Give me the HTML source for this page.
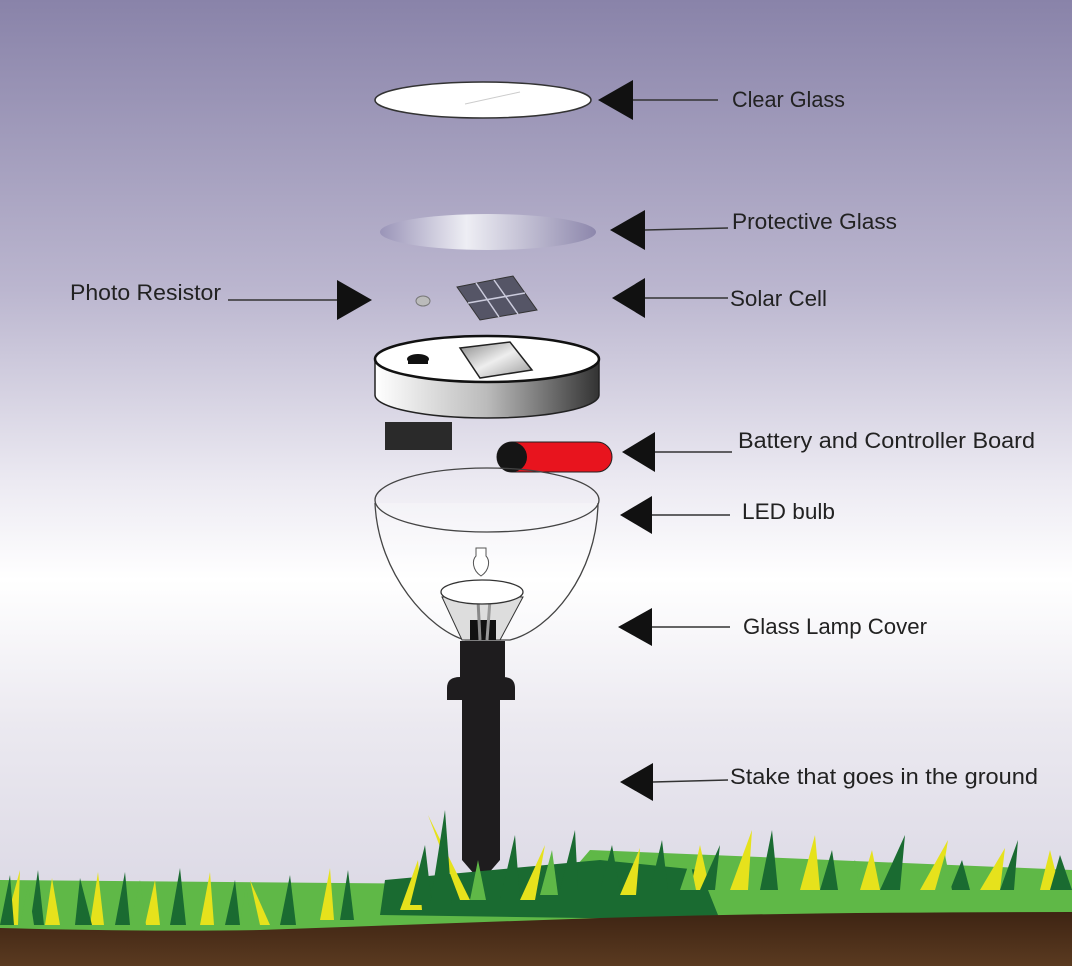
<!DOCTYPE html>
<html><head><meta charset="utf-8"><style>
html,body{margin:0;padding:0}
body{width:1072px;height:966px;overflow:hidden}
svg{display:block}
text{font-family:"Liberation Sans",sans-serif;font-size:22px;fill:#222}
</style></head><body>
<svg width="1072" height="966" viewBox="0 0 1072 966" xmlns="http://www.w3.org/2000/svg">
<defs>
<linearGradient id="bg" x1="0" y1="0" x2="0" y2="1">
<stop offset="0" stop-color="#8983a9"/>
<stop offset="0.3" stop-color="#bbb6cf"/>
<stop offset="0.5" stop-color="#eceaf2"/>
<stop offset="0.6" stop-color="#ffffff"/>
<stop offset="0.75" stop-color="#ebe9f0"/>
<stop offset="1" stop-color="#d6d3e1"/>
</linearGradient>
<linearGradient id="pg" x1="0" y1="0" x2="1" y2="0">
<stop offset="0" stop-color="#9a94b8"/><stop offset="0.4" stop-color="#eeeef4"/><stop offset="1" stop-color="#8d87ac"/>
</linearGradient>
<linearGradient id="cyl" x1="0" y1="0" x2="1" y2="0">
<stop offset="0" stop-color="#fff"/><stop offset="0.5" stop-color="#bbb"/><stop offset="1" stop-color="#333"/>
</linearGradient>
<linearGradient id="sq" x1="0" y1="0" x2="1" y2="1">
<stop offset="0" stop-color="#888"/><stop offset="0.5" stop-color="#eee"/><stop offset="1" stop-color="#999"/>
</linearGradient>
<linearGradient id="soil" x1="0" y1="0" x2="0" y2="1">
<stop offset="0" stop-color="#3e2413"/><stop offset="1" stop-color="#5a3a20"/>
</linearGradient>
</defs>
<rect width="1072" height="966" fill="url(#bg)"/>

<ellipse cx="483" cy="100" rx="108" ry="18" fill="#fff" stroke="#333" stroke-width="1.5"/>
<line x1="465" y1="104" x2="520" y2="92" stroke="#ccc"/>
<ellipse cx="488" cy="232" rx="108" ry="18" fill="url(#pg)"/>
<ellipse cx="423" cy="301" rx="7" ry="5" fill="#bbb" stroke="#777"/>
<polygon points="457,287 513,276 537,310 480,320" fill="#556" stroke="#333"/>
<g stroke="#ccd" stroke-width="1.5" fill="none">
<line x1="476" y1="283" x2="499" y2="317"/><line x1="494" y1="280" x2="518" y2="314"/>
<line x1="468" y1="303" x2="525" y2="293"/>
</g>
<path d="M375,359 L375,395 A112,23 0 0 0 599,395 L599,359 Z" fill="url(#cyl)" stroke="#222" stroke-width="1.5"/>
<ellipse cx="487" cy="359" rx="112" ry="23" fill="#fff" stroke="#111" stroke-width="2.5"/>
<ellipse cx="418" cy="359" rx="11" ry="5" fill="#111"/>
<rect x="408" y="359" width="20" height="5" fill="#111"/>
<polygon points="460,348 510,342 532,370 480,378" fill="url(#sq)" stroke="#222" stroke-width="1.5"/>
<rect x="385" y="422" width="67" height="28" fill="#2a2a2a"/>
<rect x="497" y="442" width="115" height="30" rx="15" fill="#e8141e" stroke="#222" stroke-width="1"/>
<circle cx="512" cy="457" r="15" fill="#151515"/>
<path d="M375,503 C378,575 430,630 465,640 L510,640 C550,630 597,575 598,503" fill="rgba(255,255,255,0.25)" stroke="#444" stroke-width="1.3"/>
<ellipse cx="487" cy="500" rx="112" ry="32" fill="none" stroke="#444" stroke-width="1.3"/>
<path d="M476,548 h10 v8 c4,4 4,14 -5,20 c-9,-6 -9,-16 -5,-20 z" fill="#fff" stroke="#555"/>
<polygon points="442,597 523,597 500,640 462,640" fill="#ddd" stroke="#333"/>
<rect x="470" y="620" width="26" height="20" fill="#111"/>
<line x1="478" y1="600" x2="480" y2="640" stroke="#888" stroke-width="3"/>
<line x1="490" y1="600" x2="487" y2="640" stroke="#999" stroke-width="3"/>
<ellipse cx="482" cy="592" rx="41" ry="12" fill="#fff" stroke="#333" stroke-width="1.3"/>
<rect x="460" y="641" width="45" height="40" fill="#1e1c1e"/>
<path d="M447,700 L447,688 Q447,677 460,677 L503,677 Q515,677 515,688 L515,700 Z" fill="#1e1c1e"/>
<path d="M462,700 L500,700 L500,860 L481,882 L462,860 Z" fill="#1e1c1e"/>

<g stroke-linejoin="round">
<path d="M0,880 L560,885 L590,850 L1072,870 L1072,930 L0,935 Z" fill="#5fb847"/>
<path d="M380,915 L385,880 L600,860 L700,870 L720,920 Z" fill="#1a6b31"/>
<g fill="#e6e21c">
<polygon points="5,925 20,870 18,925"/><polygon points="45,925 52,878 60,925"/><polygon points="90,925 98,872 104,925"/><polygon points="145,925 155,880 160,925"/><polygon points="200,925 210,872 214,925"/><polygon points="260,925 250,880 270,925"/><polygon points="320,920 330,868 334,920"/><polygon points="400,910 418,860 422,910"/><polygon points="460,900 428,815 470,900"/><polygon points="520,900 545,845 535,900"/><polygon points="620,895 640,848 636,895"/><polygon points="690,890 700,845 710,890"/><polygon points="730,890 752,830 748,890"/><polygon points="800,890 815,835 820,890"/><polygon points="860,890 872,850 880,890"/><polygon points="920,890 948,840 940,890"/><polygon points="980,890 1005,848 1000,890"/><polygon points="1040,890 1050,850 1060,890"/>
</g>
<g fill="#1a6b31">
<polygon points="0,925 10,875 14,925"/><polygon points="30,925 38,870 44,925"/><polygon points="75,925 80,878 92,925"/><polygon points="115,925 125,872 130,925"/><polygon points="170,925 180,868 186,925"/><polygon points="225,925 235,880 240,925"/><polygon points="280,925 290,875 296,925"/><polygon points="340,920 348,870 354,920"/><polygon points="410,905 425,845 432,905"/><polygon points="430,905 445,810 452,905"/><polygon points="500,900 515,835 520,900"/><polygon points="560,890 575,830 578,890"/><polygon points="600,890 612,845 620,890"/><polygon points="650,890 662,840 668,890"/><polygon points="700,890 720,845 715,890"/><polygon points="760,890 772,830 778,890"/><polygon points="820,890 832,850 838,890"/><polygon points="880,890 905,835 900,890"/><polygon points="950,890 962,860 970,890"/><polygon points="1000,890 1018,840 1014,890"/><polygon points="1050,890 1060,855 1072,890"/>
</g>
<g fill="#5fb847">
<polygon points="20,925 28,885 34,925"/><polygon points="130,925 140,880 146,925"/><polygon points="240,925 246,885 252,925"/><polygon points="470,900 478,860 486,900"/><polygon points="540,895 552,850 558,895"/><polygon points="680,890 690,860 696,890"/><polygon points="840,890 855,860 860,890"/><polygon points="935,890 945,855 952,890"/>
</g>
</g>
<path d="M0,928 Q150,932 260,930 L400,925 L600,918 Q800,912 1072,912 L1072,966 L0,966 Z" fill="url(#soil)"/>

<g fill="#111">
<polygon points="598,100 633,80 633,120"/>
<polygon points="610,230 645,210 645,250"/>
<polygon points="612,298 645,278 645,318"/>
<polygon points="372,300 337,280 337,320"/>
<polygon points="622,452 655,432 655,472"/>
<polygon points="620,515 652,496 652,534"/>
<polygon points="618,627 652,608 652,646"/>
<polygon points="620,782 653,763 653,801"/>
</g>
<g stroke="#333" stroke-width="1.5">
<line x1="633" y1="100" x2="718" y2="100"/>
<line x1="645" y1="230" x2="728" y2="228"/>
<line x1="645" y1="298" x2="728" y2="298"/>
<line x1="228" y1="300" x2="337" y2="300"/>
<line x1="655" y1="452" x2="732" y2="452"/>
<line x1="652" y1="515" x2="730" y2="515"/>
<line x1="652" y1="627" x2="730" y2="627"/>
<line x1="653" y1="782" x2="728" y2="780"/>
</g>
<g lengthAdjust="spacingAndGlyphs">
<text x="732" y="107" textLength="113" lengthAdjust="spacingAndGlyphs">Clear Glass</text>
<text x="732" y="229" textLength="165" lengthAdjust="spacingAndGlyphs">Protective Glass</text>
<text x="730" y="306" textLength="97" lengthAdjust="spacingAndGlyphs">Solar Cell</text>
<text x="70" y="300" textLength="151" lengthAdjust="spacingAndGlyphs">Photo Resistor</text>
<text x="738" y="448" textLength="297" lengthAdjust="spacingAndGlyphs">Battery and Controller Board</text>
<text x="742" y="519" textLength="93" lengthAdjust="spacingAndGlyphs">LED bulb</text>
<text x="743" y="634" textLength="184" lengthAdjust="spacingAndGlyphs">Glass Lamp Cover</text>
<text x="730" y="784" textLength="308" lengthAdjust="spacingAndGlyphs">Stake that goes in the ground</text>
</g>
</svg>
</body></html>
